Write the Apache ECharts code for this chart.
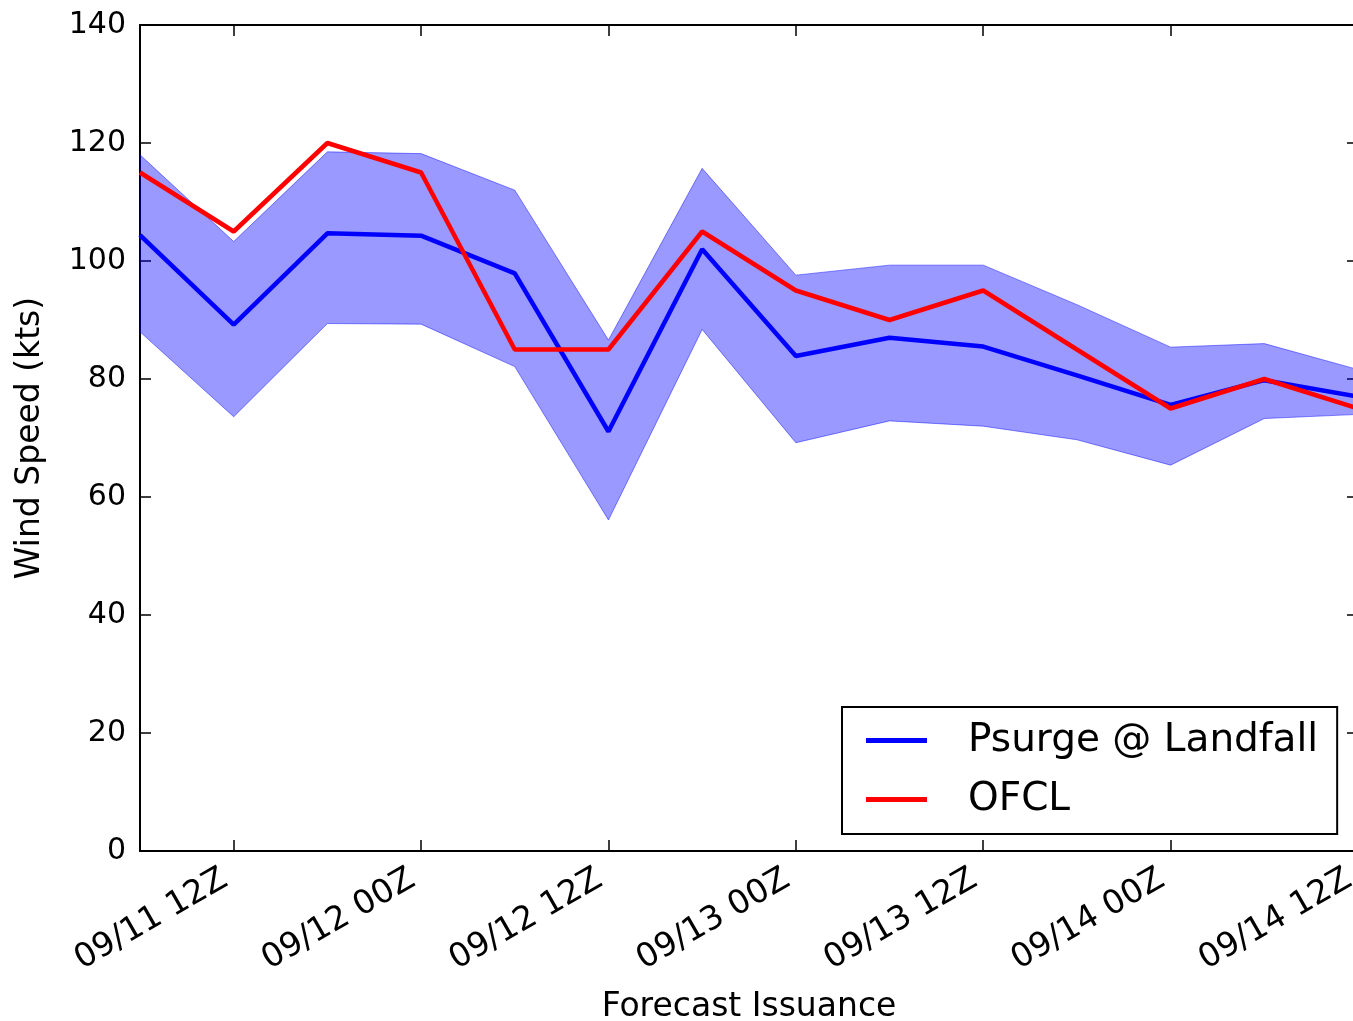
<!DOCTYPE html>
<html>
<head>
<meta charset="utf-8">
<script src="https://cdn.jsdelivr.net/npm/echarts@6/dist/echarts.min.js"></script>
<style>
html,body{margin:0;padding:0;background:#fff;}
#chart{width:1353px;height:1021px;}
</style>
</head>
<body>
<div id="chart"></div>
<script>
const categories = ['09/11 06Z','09/11 12Z','09/11 18Z','09/12 00Z','09/12 06Z','09/12 12Z','09/12 18Z','09/13 00Z','09/13 06Z','09/13 12Z','09/13 18Z','09/14 00Z','09/14 06Z','09/14 12Z'];
const psurge    = [104.4, 89.2, 104.7, 104.3, 97.9, 71.1, 102.0, 83.9, 87.0, 85.5, 80.6, 75.6, 79.8, 77.0];
const ofcl      = [115, 105, 120, 115, 85, 85, 105, 95, 90, 95, 85, 75, 80, 75];
const bandUpper = [118.0, 103.3, 118.5, 118.2, 112.0, 86.6, 115.7, 97.6, 99.3, 99.3, 92.6, 85.4, 86.0, 81.6];
const bandLower = [88.0, 73.6, 89.4, 89.3, 82.1, 56.1, 88.4, 69.2, 72.9, 72.0, 69.7, 65.4, 73.3, 74.0];
const yTicks = {min: 0, max: 140, interval: 20};

const bandWidth = bandUpper.map((u, i) => u - bandLower[i]);
const FONT = 'DejaVu Sans';
const majorTick = (i) => i % 2 === 1;

const chart = echarts.init(document.getElementById('chart'), null, {renderer: 'canvas'});
const axisLine = {show: true, onZero: false, lineStyle: {color: '#000', width: 2}};
const tick = {show: true, inside: true, length: 11, lineStyle: {color: '#000', width: 1.5}};

chart.setOption({
  animation: false,
  backgroundColor: '#fff',
  textStyle: {fontFamily: FONT},
  grid: {left: 140, right: -5, top: 25, bottom: 170, containLabel: false, outerBoundsMode: 'none'},
  legend: {
    data: ['Psurge @ Landfall', 'OFCL'],
    orient: 'vertical',
    left: 842, top: 707,
    padding: [14, 19, 15, 24],
    borderColor: '#000', borderWidth: 2,
    backgroundColor: '#fff',
    itemWidth: 61, itemHeight: 5, itemGap: 20,
    icon: 'rect',
    textStyle: {fontFamily: FONT, fontSize: 39, color: '#000', padding: [0, 0, 0, 36]}
  },
  xAxis: [{
    type: 'category', data: categories, boundaryGap: false, position: 'bottom',
    axisLine: axisLine,
    axisTick: Object.assign({}, tick, {interval: majorTick}),
    axisLabel: {interval: majorTick, rotate: 30, fontSize: 33, color: '#000', fontFamily: FONT, margin: 21, padding: [0, 10, 0, 0]},
    splitLine: {show: false},
    name: 'Forecast Issuance', nameLocation: 'middle', nameGap: 140,
    nameTextStyle: {fontSize: 33, color: '#000', fontFamily: FONT}
  }, {
    type: 'category', data: categories, boundaryGap: false, position: 'top',
    axisLine: axisLine,
    axisTick: Object.assign({}, tick, {interval: majorTick}),
    axisLabel: {show: false}, splitLine: {show: false}
  }],
  yAxis: [{
    type: 'value', min: yTicks.min, max: yTicks.max, interval: yTicks.interval, position: 'left',
    axisLine: axisLine, axisTick: tick,
    axisLabel: {fontSize: 30, color: '#000', fontFamily: FONT, margin: 14},
    splitLine: {show: false},
    name: 'Wind Speed (kts)', nameLocation: 'middle', nameGap: 93, nameRotate: 90,
    nameTextStyle: {fontSize: 33, color: '#000', fontFamily: FONT}
  }, {
    type: 'value', min: yTicks.min, max: yTicks.max, interval: yTicks.interval, position: 'right',
    axisLine: axisLine, axisTick: tick,
    axisLabel: {show: false}, splitLine: {show: false}
  }],
  series: [{
    name: 'bandLower', type: 'line', data: bandLower, stack: 'band', symbol: 'none',
    lineStyle: {color: 'rgba(0,0,255,0.45)', width: 1}, silent: true, z: 1
  }, {
    name: 'bandWidth', type: 'line', data: bandWidth, stack: 'band', symbol: 'none',
    lineStyle: {color: 'rgba(0,0,255,0.45)', width: 1},
    areaStyle: {color: 'rgba(0,0,255,0.4)', opacity: 1}, silent: true, z: 1
  }, {
    name: 'Psurge @ Landfall', type: 'line', data: psurge, symbol: 'none', showSymbol: false,
    color: '#0000ff', lineStyle: {color: '#0000ff', width: 4.5}, z: 3
  }, {
    name: 'OFCL', type: 'line', data: ofcl, symbol: 'none', showSymbol: false,
    color: '#ff0000', lineStyle: {color: '#ff0000', width: 4.5}, z: 4
  }]
});
</script>
</body>
</html>
